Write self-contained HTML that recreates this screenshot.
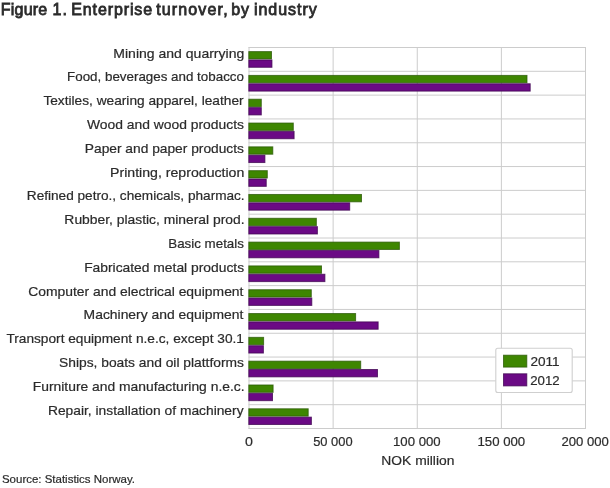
<!DOCTYPE html>
<html lang="en">
<head>
<meta charset="utf-8">
<title>Figure 1. Enterprise turnover, by industry</title>
<style>
html,body{margin:0;padding:0;background:#fff;}
body{width:610px;height:488px;overflow:hidden;}
svg{display:block;}
svg text{font-family:"Liberation Sans", Arial, sans-serif;fill:#2b2b2b;stroke:#2b2b2b;stroke-width:0.2px;}
.t13{font-size:13px;}
.t11{font-size:11px;}
.tt{font-size:16px;stroke-width:0.8px;}
</style>
</head>
<body>
<svg width="610" height="488" viewBox="0 0 610 488">
<rect x="0" y="0" width="610" height="488" fill="#ffffff"/>
<line x1="248.5" y1="47.500" x2="586" y2="47.500" stroke="#cccccc" stroke-width="1"/>
<line x1="248.5" y1="71.312" x2="586" y2="71.312" stroke="#cccccc" stroke-width="1"/>
<line x1="248.5" y1="95.125" x2="586" y2="95.125" stroke="#cccccc" stroke-width="1"/>
<line x1="248.5" y1="118.938" x2="586" y2="118.938" stroke="#cccccc" stroke-width="1"/>
<line x1="248.5" y1="142.750" x2="586" y2="142.750" stroke="#cccccc" stroke-width="1"/>
<line x1="248.5" y1="166.562" x2="586" y2="166.562" stroke="#cccccc" stroke-width="1"/>
<line x1="248.5" y1="190.375" x2="586" y2="190.375" stroke="#cccccc" stroke-width="1"/>
<line x1="248.5" y1="214.188" x2="586" y2="214.188" stroke="#cccccc" stroke-width="1"/>
<line x1="248.5" y1="238.000" x2="586" y2="238.000" stroke="#cccccc" stroke-width="1"/>
<line x1="248.5" y1="261.812" x2="586" y2="261.812" stroke="#cccccc" stroke-width="1"/>
<line x1="248.5" y1="285.625" x2="586" y2="285.625" stroke="#cccccc" stroke-width="1"/>
<line x1="248.5" y1="309.438" x2="586" y2="309.438" stroke="#cccccc" stroke-width="1"/>
<line x1="248.5" y1="333.250" x2="586" y2="333.250" stroke="#cccccc" stroke-width="1"/>
<line x1="248.5" y1="357.062" x2="586" y2="357.062" stroke="#cccccc" stroke-width="1"/>
<line x1="248.5" y1="380.875" x2="586" y2="380.875" stroke="#cccccc" stroke-width="1"/>
<line x1="248.5" y1="404.688" x2="586" y2="404.688" stroke="#cccccc" stroke-width="1"/>
<line x1="248.5" y1="428.500" x2="586" y2="428.500" stroke="#cccccc" stroke-width="1"/>
<line x1="249.000" y1="47" x2="249.000" y2="429" stroke="#cccccc" stroke-width="1"/>
<line x1="333.125" y1="47" x2="333.125" y2="429" stroke="#cccccc" stroke-width="1"/>
<line x1="417.250" y1="47" x2="417.250" y2="429" stroke="#cccccc" stroke-width="1"/>
<line x1="501.375" y1="47" x2="501.375" y2="429" stroke="#cccccc" stroke-width="1"/>
<line x1="585.500" y1="47" x2="585.500" y2="429" stroke="#cccccc" stroke-width="1"/>
<rect x="248.80" y="51.60" width="22.70" height="7.35" fill="#3e8601" stroke="#2a5806" stroke-width="1" stroke-opacity="0.75"/>
<rect x="248.80" y="59.95" width="23.15" height="7.35" fill="#6b0a85" stroke="#3f0650" stroke-width="1" stroke-opacity="0.75"/>
<rect x="248.80" y="75.41" width="278.20" height="7.35" fill="#3e8601" stroke="#2a5806" stroke-width="1" stroke-opacity="0.75"/>
<rect x="248.80" y="83.76" width="281.40" height="7.35" fill="#6b0a85" stroke="#3f0650" stroke-width="1" stroke-opacity="0.75"/>
<rect x="248.80" y="99.22" width="12.50" height="7.35" fill="#3e8601" stroke="#2a5806" stroke-width="1" stroke-opacity="0.75"/>
<rect x="248.80" y="107.58" width="12.50" height="7.35" fill="#6b0a85" stroke="#3f0650" stroke-width="1" stroke-opacity="0.75"/>
<rect x="248.80" y="123.04" width="44.50" height="7.35" fill="#3e8601" stroke="#2a5806" stroke-width="1" stroke-opacity="0.75"/>
<rect x="248.80" y="131.39" width="45.30" height="7.35" fill="#6b0a85" stroke="#3f0650" stroke-width="1" stroke-opacity="0.75"/>
<rect x="248.80" y="146.85" width="24.00" height="7.35" fill="#3e8601" stroke="#2a5806" stroke-width="1" stroke-opacity="0.75"/>
<rect x="248.80" y="155.20" width="16.10" height="7.35" fill="#6b0a85" stroke="#3f0650" stroke-width="1" stroke-opacity="0.75"/>
<rect x="248.80" y="170.66" width="18.50" height="7.35" fill="#3e8601" stroke="#2a5806" stroke-width="1" stroke-opacity="0.75"/>
<rect x="248.80" y="179.01" width="17.45" height="7.35" fill="#6b0a85" stroke="#3f0650" stroke-width="1" stroke-opacity="0.75"/>
<rect x="248.80" y="194.47" width="112.70" height="7.35" fill="#3e8601" stroke="#2a5806" stroke-width="1" stroke-opacity="0.75"/>
<rect x="248.80" y="202.82" width="100.90" height="7.35" fill="#6b0a85" stroke="#3f0650" stroke-width="1" stroke-opacity="0.75"/>
<rect x="248.80" y="218.29" width="67.55" height="7.35" fill="#3e8601" stroke="#2a5806" stroke-width="1" stroke-opacity="0.75"/>
<rect x="248.80" y="226.64" width="68.60" height="7.35" fill="#6b0a85" stroke="#3f0650" stroke-width="1" stroke-opacity="0.75"/>
<rect x="248.80" y="242.10" width="150.60" height="7.35" fill="#3e8601" stroke="#2a5806" stroke-width="1" stroke-opacity="0.75"/>
<rect x="248.80" y="250.45" width="130.10" height="7.35" fill="#6b0a85" stroke="#3f0650" stroke-width="1" stroke-opacity="0.75"/>
<rect x="248.80" y="265.91" width="72.70" height="7.35" fill="#3e8601" stroke="#2a5806" stroke-width="1" stroke-opacity="0.75"/>
<rect x="248.80" y="274.26" width="76.10" height="7.35" fill="#6b0a85" stroke="#3f0650" stroke-width="1" stroke-opacity="0.75"/>
<rect x="248.80" y="289.73" width="62.50" height="7.35" fill="#3e8601" stroke="#2a5806" stroke-width="1" stroke-opacity="0.75"/>
<rect x="248.80" y="298.07" width="63.00" height="7.35" fill="#6b0a85" stroke="#3f0650" stroke-width="1" stroke-opacity="0.75"/>
<rect x="248.80" y="313.54" width="106.80" height="7.35" fill="#3e8601" stroke="#2a5806" stroke-width="1" stroke-opacity="0.75"/>
<rect x="248.80" y="321.89" width="129.35" height="7.35" fill="#6b0a85" stroke="#3f0650" stroke-width="1" stroke-opacity="0.75"/>
<rect x="248.80" y="337.35" width="14.80" height="7.35" fill="#3e8601" stroke="#2a5806" stroke-width="1" stroke-opacity="0.75"/>
<rect x="248.80" y="345.70" width="14.60" height="7.35" fill="#6b0a85" stroke="#3f0650" stroke-width="1" stroke-opacity="0.75"/>
<rect x="248.80" y="361.16" width="111.90" height="7.35" fill="#3e8601" stroke="#2a5806" stroke-width="1" stroke-opacity="0.75"/>
<rect x="248.80" y="369.51" width="128.70" height="7.35" fill="#6b0a85" stroke="#3f0650" stroke-width="1" stroke-opacity="0.75"/>
<rect x="248.80" y="384.98" width="24.30" height="7.35" fill="#3e8601" stroke="#2a5806" stroke-width="1" stroke-opacity="0.75"/>
<rect x="248.80" y="393.32" width="23.70" height="7.35" fill="#6b0a85" stroke="#3f0650" stroke-width="1" stroke-opacity="0.75"/>
<rect x="248.80" y="408.79" width="59.40" height="7.35" fill="#3e8601" stroke="#2a5806" stroke-width="1" stroke-opacity="0.75"/>
<rect x="248.80" y="417.14" width="62.60" height="7.35" fill="#6b0a85" stroke="#3f0650" stroke-width="1" stroke-opacity="0.75"/>
<rect x="495.8" y="348.3" width="76.4" height="44.2" rx="2" ry="2" fill="#ffffff" stroke="#cfcfcf" stroke-width="1.1"/>
<rect x="503.5" y="355.2" width="23.3" height="11.9" fill="#3e8601" stroke="#2a5806" stroke-opacity="0.75"/>
<rect x="503.5" y="373.8" width="23.3" height="12.1" fill="#6b0a85" stroke="#3f0650" stroke-opacity="0.75"/>
<text class="t13" x="113.31" y="57.80" textLength="130.95" lengthAdjust="spacingAndGlyphs">Mining and quarrying</text>
<text class="t13" x="67.08" y="80.80" textLength="176.87" lengthAdjust="spacingAndGlyphs">Food, beverages and tobacco</text>
<text class="t13" x="43.42" y="104.80" textLength="200.17" lengthAdjust="spacingAndGlyphs">Textiles, wearing apparel, leather</text>
<text class="t13" x="86.95" y="128.80" textLength="157.01" lengthAdjust="spacingAndGlyphs">Wood and wood products</text>
<text class="t13" x="84.80" y="152.80" textLength="159.16" lengthAdjust="spacingAndGlyphs">Paper and paper products</text>
<text class="t13" x="110.06" y="176.80" textLength="134.29" lengthAdjust="spacingAndGlyphs">Printing, reproduction</text>
<text class="t13" x="26.83" y="199.80" textLength="217.84" lengthAdjust="spacingAndGlyphs">Refined petro., chemicals, pharmac.</text>
<text class="t13" x="64.39" y="223.80" textLength="180.21" lengthAdjust="spacingAndGlyphs">Rubber, plastic, mineral prod.</text>
<text class="t13" x="168.28" y="247.80" textLength="75.67" lengthAdjust="spacingAndGlyphs">Basic metals</text>
<text class="t13" x="84.15" y="271.80" textLength="159.94" lengthAdjust="spacingAndGlyphs">Fabricated metal products</text>
<text class="t13" x="28.26" y="295.80" textLength="215.19" lengthAdjust="spacingAndGlyphs">Computer and electrical equipment</text>
<text class="t13" x="83.59" y="318.80" textLength="159.86" lengthAdjust="spacingAndGlyphs">Machinery and equipment</text>
<text class="t13" x="6.42" y="342.80" textLength="237.55" lengthAdjust="spacingAndGlyphs">Transport equipment n.e.c, except 30.1</text>
<text class="t13" x="59.02" y="366.80" textLength="184.88" lengthAdjust="spacingAndGlyphs">Ships, boats and oil plattforms</text>
<text class="t13" x="32.78" y="390.80" textLength="211.81" lengthAdjust="spacingAndGlyphs">Furniture and manufacturing n.e.c.</text>
<text class="t13" x="47.97" y="414.80" textLength="195.58" lengthAdjust="spacingAndGlyphs">Repair, installation of machinery</text>
<text class="tt" x="0.79" y="14.70" textLength="46.48" lengthAdjust="spacing">Figure</text>
<text class="tt" x="52.41" y="14.70" textLength="14.59" lengthAdjust="spacing">1.</text>
<text class="tt" x="71.30" y="14.70" textLength="80.81" lengthAdjust="spacing">Enterprise</text>
<text class="tt" x="156.14" y="14.70" textLength="71.47" lengthAdjust="spacing">turnover,</text>
<text class="tt" x="231.18" y="14.70" textLength="17.81" lengthAdjust="spacing">by</text>
<text class="tt" x="253.91" y="14.70" textLength="62.88" lengthAdjust="spacing">industry</text>
<text class="t13" x="245.11" y="446.10" textLength="7.89" lengthAdjust="spacingAndGlyphs">0</text>
<text class="t13" x="313.15" y="446.10" textLength="39.43" lengthAdjust="spacingAndGlyphs">50 000</text>
<text class="t13" x="393.04" y="446.10" textLength="47.61" lengthAdjust="spacingAndGlyphs">100 000</text>
<text class="t13" x="477.49" y="446.10" textLength="47.73" lengthAdjust="spacingAndGlyphs">150 000</text>
<text class="t13" x="561.49" y="446.10" textLength="47.43" lengthAdjust="spacingAndGlyphs">200 000</text>
<text class="t13" x="381.36" y="465.30" textLength="72.98" lengthAdjust="spacingAndGlyphs">NOK million</text>
<text class="t13" x="530.48" y="365.90" textLength="29.22" lengthAdjust="spacingAndGlyphs">2011</text>
<text class="t13" x="530.26" y="384.90" textLength="29.46" lengthAdjust="spacingAndGlyphs">2012</text>
<text class="t11" x="1.97" y="483.10" textLength="133.03" lengthAdjust="spacingAndGlyphs">Source: Statistics Norway.</text>
</svg>
</body>
</html>
